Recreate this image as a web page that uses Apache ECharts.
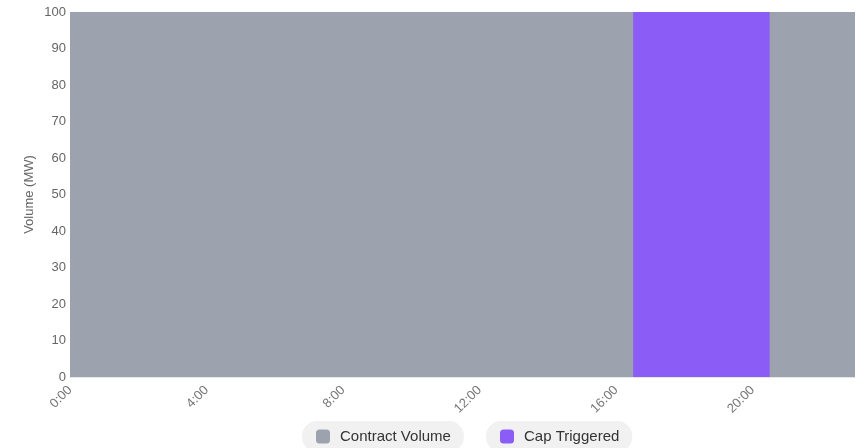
<!DOCTYPE html>
<html>
<head>
<meta charset="utf-8">
<script src="https://cdn.jsdelivr.net/npm/echarts@6/dist/echarts.min.js"></script>
<style>
  html, body { margin: 0; padding: 0; background: #fff; }
  #chart { width: 864px; height: 448px; }
</style>
</head>
<body>
<div id="chart"></div>
<script>
// Hourly contract volume with the hours where the price cap was triggered
const hours = ['0:00','1:00','2:00','3:00','4:00','5:00','6:00','7:00','8:00','9:00','10:00','11:00',
               '12:00','13:00','14:00','15:00','16:00','17:00','18:00','19:00','20:00','21:00','22:00','23:00'];
const contractVolume = [100,100,100,100,100,100,100,100,100,100,100,100,
                        100,100,100,100,100,100,100,100,100,100,100,100];
const capTriggered = [0,0,0,0,0,0,0,0,0,0,0,0,
                      0,0,0,0,0,100,100,100,100,0,0,0];
const yTicks = { min: 0, max: 100, interval: 10 };

const GRAY = '#9ca3af';
const PURPLE = '#8b5cf6';
const FONT = 'Liberation Sans, Arial, sans-serif';

const chart = echarts.init(document.getElementById('chart'), null, { renderer: 'canvas' });

// one rounded "pill" legend per series
const pillLegend = (name, left) => ({
  data: [name],
  left: left,
  top: 421,
  orient: 'horizontal',
  backgroundColor: '#f1f1f1',
  borderRadius: 15,
  padding: [8, 13, 8, 14],
  icon: 'roundRect',
  itemWidth: 14,
  itemHeight: 14,
  selectedMode: false,
  textStyle: { fontSize: 15, color: '#333', padding: [0, 0, 0, 5], fontFamily: FONT }
});

// hourly blocks drawn as stepped areas centred on each hour
const stepArea = (name, data, color) => ({
  name: name,
  type: 'line',
  step: 'middle',
  data: data,
  symbol: 'none',
  clip: true,
  lineStyle: { width: 0, color: color },
  itemStyle: { color: color },
  areaStyle: { color: color, opacity: 1 }
});

chart.setOption({
  animation: false,
  grid: { left: 70, right: 9, top: 12, bottom: 71 },
  legend: [pillLegend('Contract Volume', 302), pillLegend('Cap Triggered', 486)],
  xAxis: {
    type: 'category',
    data: hours,
    boundaryGap: false,
    axisLine: { lineStyle: { color: '#e5e7eb' } },
    axisTick: { show: false },
    axisLabel: {
      interval: 3,
      rotate: 45,
      margin: 11,
      fontSize: 13,
      color: '#777',
      fontFamily: FONT
    }
  },
  yAxis: {
    type: 'value',
    min: yTicks.min,
    max: yTicks.max,
    interval: yTicks.interval,
    name: 'Volume (MW)',
    nameLocation: 'middle',
    nameGap: 34,
    nameMoveOverlap: false,
    nameTextStyle: { fontSize: 13, color: '#666', fontFamily: FONT },
    axisLine: { show: false },
    axisTick: { show: false },
    splitLine: { lineStyle: { color: '#e5e7eb' } },
    axisLabel: { fontSize: 13, margin: 4, color: '#666', fontFamily: FONT }
  },
  series: [
    stepArea('Contract Volume', contractVolume, GRAY),
    stepArea('Cap Triggered', capTriggered, PURPLE)
  ]
});
</script>
</body>
</html>
